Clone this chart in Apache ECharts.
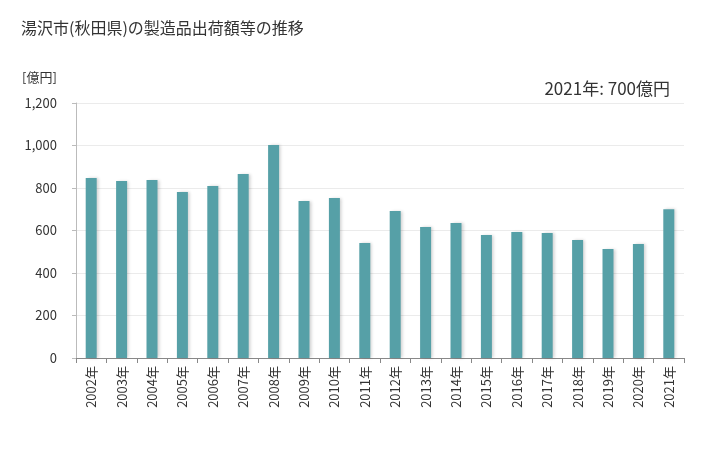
<!DOCTYPE html>
<html><head><meta charset="utf-8">
<script src="https://cdn.jsdelivr.net/npm/echarts@6/dist/echarts.min.js"></script>
<style>html,body{margin:0;padding:0;background:#fff}#c{width:728px;height:450px}</style>
</head><body><div id="c"></div>
<script>
const categories = ["2002年","2003年","2004年","2005年","2006年","2007年","2008年","2009年","2010年","2011年","2012年","2013年","2014年","2015年","2016年","2017年","2018年","2019年","2020年","2021年"];
const values = [847,833,838,781,809,866,1002,739,753,541,692,616,635,579,593,588,555,513,536,700];
const yTicks = [0,200,400,600,800,1000,1200];
const titleText = "湯沢市(秋田県)の製造品出荷額等の推移";
const unitText = "[億円]";
const noteText = "2021年: 700億円";
const font = '"Noto Sans CJK JP", sans-serif';
const chart = echarts.init(document.getElementById('c'));
chart.setOption({
  animation:false,
  textStyle:{fontFamily:font},
  title:[
    {text:titleText,left:16,top:15,textStyle:{fontFamily:font,fontSize:16,fontWeight:'normal',color:'#333'}},
    {text:unitText,left:17,top:66,textStyle:{fontFamily:font,fontSize:13,fontWeight:'normal',color:'#333'}},
    {text:noteText,right:53,top:75,textStyle:{fontFamily:font,fontSize:17,fontWeight:'normal',color:'#333'}}
  ],
  grid:{left:76,right:44,top:103,bottom:92,containLabel:false},
  xAxis:{type:'category',data:categories,
    axisLine:{lineStyle:{color:'#888'}},
    axisTick:{show:true,alignWithLabel:false,length:5,lineStyle:{color:'#888'}},
    axisLabel:{rotate:90,fontSize:13,color:'#333',fontFamily:font,margin:8,interval:0}},
  yAxis:{type:'value',min:yTicks[0],max:yTicks[yTicks.length-1],interval:200,
    axisLine:{show:true,lineStyle:{color:'#bbb'}},
    axisTick:{show:true,length:4,lineStyle:{color:'#bbb'}},
    splitLine:{lineStyle:{color:'#ebebeb'}},
    axisLabel:{fontSize:13,color:'#333',fontFamily:font,margin:19,
      formatter:v=>v.toLocaleString('en-US')}},
  series:[{type:'bar',data:values,barWidth:11,
    itemStyle:{color:'#56a0a7',shadowColor:'rgba(0,0,0,0.18)',shadowBlur:3,shadowOffsetX:2,shadowOffsetY:0}}]
});
</script></body></html>
